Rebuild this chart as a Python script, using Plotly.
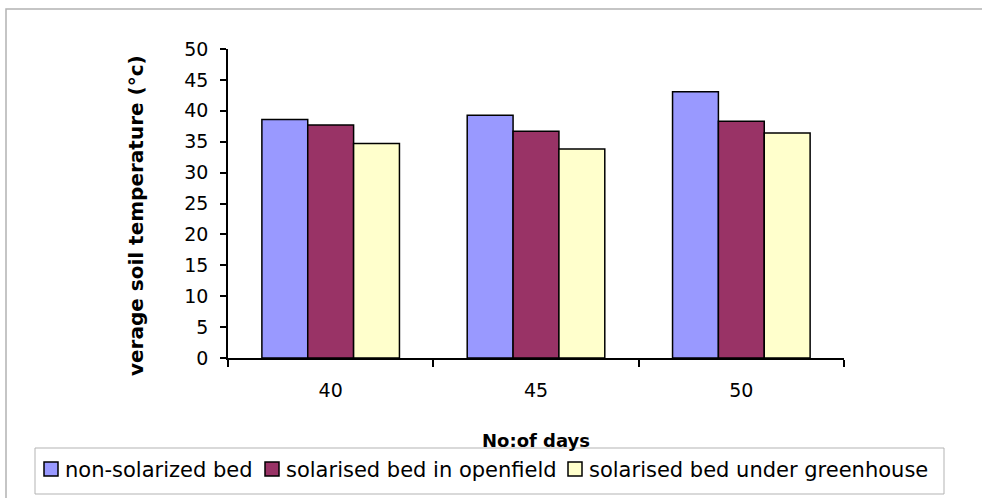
import plotly.graph_objects as go

# Soil temperature by solarisation treatment and number of days
days = ["40", "45", "50"]
non_solarized = [38.6, 39.3, 43.1]
solarised_openfield = [37.7, 36.7, 38.3]
solarised_greenhouse = [34.7, 33.8, 36.4]

series_names = [
    "non-solarized bed",
    "solarised bed in openfield",
    "solarised bed under greenhouse",
]
series_values = [non_solarized, solarised_openfield, solarised_greenhouse]
series_colors = ["#9999FF", "#993366", "#FFFFCC"]

W, H = 982, 498
L, R, T, B = 228, 138, 49, 140
PW, PH = W - L - R, H - T - B


def px_x(p):
    return (p - L) / PW


def px_y(p):
    return (H - B - p) / PH


FONT = "DejaVu Sans"

fig = go.Figure()
for name, vals, col in zip(series_names, series_values, series_colors):
    fig.add_trace(go.Bar(
        x=days, y=vals, name=name, showlegend=False,
        marker=dict(color=col, line=dict(color="#000000", width=1.5)),
    ))

# Frame around the whole chart (open on the right and bottom edges)
shapes = [
    dict(type="rect", xref="paper", yref="paper", layer="below",
         x0=px_x(6), x1=px_x(1000), y0=px_y(520), y1=px_y(9),
         line=dict(color="#b3b3b3", width=1.5), fillcolor="rgba(0,0,0,0)"),
    # legend box
    dict(type="rect", xref="paper", yref="paper", layer="above",
         x0=px_x(35), x1=px_x(944), y0=px_y(494), y1=px_y(448),
         line=dict(color="#b3b3b3", width=1), fillcolor="white"),
]

annotations = [
    dict(text="<b>verage soil temperature (°c)</b>", textangle=-90,
         xref="paper", yref="paper", x=px_x(136), y=px_y(216),
         xanchor="center", yanchor="middle", showarrow=False,
         font=dict(family=FONT, size=20, color="#000000")),
    dict(text="<b>No:of days</b>",
         xref="paper", yref="paper", x=0.5, y=px_y(440),
         xanchor="center", yanchor="middle", showarrow=False,
         font=dict(family=FONT, size=18, color="#000000")),
]

# Legend entries laid out in one row inside the legend box
entry_left = [44, 265, 568]
swatch = 14
legend_mid = 469
for name, col, x0 in zip(series_names, series_colors, entry_left):
    shapes.append(dict(
        type="rect", xref="paper", yref="paper", layer="above",
        x0=px_x(x0), x1=px_x(x0 + swatch),
        y0=px_y(legend_mid + swatch / 2), y1=px_y(legend_mid - swatch / 2),
        line=dict(color="#000000", width=1.5), fillcolor=col,
    ))
    annotations.append(dict(
        text=name, xref="paper", yref="paper",
        x=px_x(x0 + swatch + 5), y=px_y(legend_mid + 1),
        xanchor="left", yanchor="middle", showarrow=False,
        font=dict(family=FONT, size=21, color="#000000"),
    ))

fig.update_layout(
    width=W, height=H,
    margin=dict(l=L, r=R, t=T, b=B, pad=0, autoexpand=False),
    paper_bgcolor="white", plot_bgcolor="white",
    barmode="group", bargap=0.33, bargroupgap=0,
    font=dict(family=FONT, color="#000000"),
    showlegend=False,
    xaxis=dict(
        type="category",
        showline=True, linecolor="#000000", linewidth=1.5,
        ticks="outside", ticklen=7, tickcolor="#000000", tickwidth=1.5,
        tickson="boundaries",
        tickfont=dict(family=FONT, size=19, color="#000000"),
        ticklabelstandoff=14,
        showgrid=False, zeroline=False,
    ),
    yaxis=dict(
        range=[0, 50], dtick=5, tick0=0,
        showline=True, linecolor="#000000", linewidth=1.5,
        ticks="outside", ticklen=6, tickcolor="#000000", tickwidth=1.5,
        tickfont=dict(family=FONT, size=19, color="#000000"),
        ticklabelstandoff=8,
        showgrid=False, zeroline=False,
    ),
    shapes=shapes,
    annotations=annotations,
)

fig.write_html("out.html")
